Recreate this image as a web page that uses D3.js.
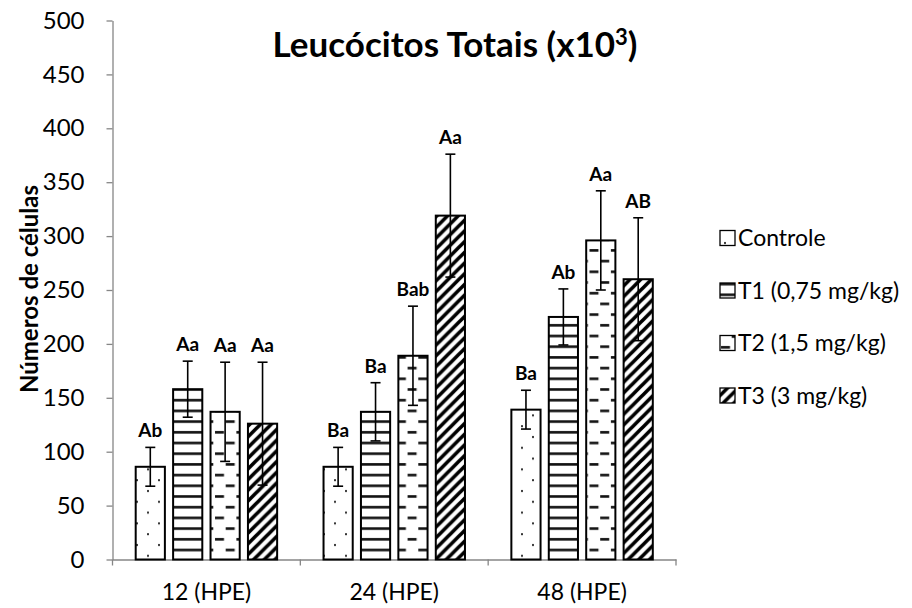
<!DOCTYPE html>
<html>
<head>
<meta charset="utf-8">
<script src="https://cdn.jsdelivr.net/npm/d3@7"></script>
<style>
  body { margin: 0; background: #fff; }
  svg { display: block; }
  text { font-family: Lato, "Open Sans", sans-serif; fill: #000; }
</style>
</head>
<body>
<svg id="chart" width="912" height="608"></svg>
<script>
// Total leukocytes (x10^3) per treatment and sampling time
const categories = ["12 (HPE)", "24 (HPE)", "48 (HPE)"];
const seriesNames = ["Controle", "T1 (0,75 mg/kg)", "T2 (1,5 mg/kg)", "T3 (3 mg/kg)"];
const controleMeans = [86, 86, 139];
const t1Means = [158, 137, 225];
const t2Means = [137, 189, 296];
const t3Means = [126, 319, 260];
const controleErr = [18, 18, 18];
const t1Err = [26, 27, 26];
const t2Err = [46, 46, 46];
const t3Err = [57, 57, 57];
const controleLetters = ["Ab", "Ba", "Ba"];
const t1Letters = ["Aa", "Ba", "Ab"];
const t2Letters = ["Aa", "Bab", "Aa"];
const t3Letters = ["Aa", "Aa", "AB"];
const yTicks = [0, 50, 100, 150, 200, 250, 300, 350, 400, 450, 500];

const patternIds = ["pat-dots", "pat-hlines", "pat-dashes", "pat-diag"];
const meansBySeries = [controleMeans, t1Means, t2Means, t3Means];
const errBySeries = [controleErr, t1Err, t2Err, t3Err];
const lettersBySeries = [controleLetters, t1Letters, t2Letters, t3Letters];

const rows = [];
categories.forEach((c, ci) => {
  seriesNames.forEach((s, si) => {
    rows.push({
      category: c, series: s, si,
      mean: meansBySeries[si][ci],
      err: errBySeries[si][ci],
      letter: lettersBySeries[si][ci]
    });
  });
});

const svg = d3.select("#chart");
const axisColor = "#868686";

// Fill patterns
const defs = svg.append("defs");
{
  const p = defs.append("pattern").attr("id", "pat-dots")
    .attr("patternUnits", "userSpaceOnUse").attr("width", 22).attr("height", 21.6);
  p.append("rect").attr("width", 22).attr("height", 21.6).attr("fill", "#fff");
  p.append("rect").attr("x", 4).attr("y", 4).attr("width", 2).attr("height", 2).attr("fill", "#333");
  p.append("rect").attr("x", 15).attr("y", 14.8).attr("width", 2).attr("height", 2).attr("fill", "#333");
}
{
  const p = defs.append("pattern").attr("id", "pat-hlines")
    .attr("patternUnits", "userSpaceOnUse").attr("width", 10).attr("height", 10.7);
  p.append("rect").attr("width", 10).attr("height", 10.7).attr("fill", "#fff");
  p.append("rect").attr("x", 0).attr("y", 3).attr("width", 10).attr("height", 2.6).attr("fill", "#111");
}
{
  const p = defs.append("pattern").attr("id", "pat-dashes")
    .attr("patternUnits", "userSpaceOnUse").attr("width", 21.4).attr("height", 21.4);
  p.append("rect").attr("width", 21.4).attr("height", 21.4).attr("fill", "#fff");
  p.append("rect").attr("x", 1).attr("y", 3).attr("width", 9).attr("height", 2.6).attr("fill", "#111");
  p.append("rect").attr("x", 11.7).attr("y", 13.7).attr("width", 9).attr("height", 2.6).attr("fill", "#111");
}
{
  const s = 10.7;
  const p = defs.append("pattern").attr("id", "pat-diag")
    .attr("patternUnits", "userSpaceOnUse").attr("width", s).attr("height", s);
  p.append("rect").attr("width", s).attr("height", s).attr("fill", "#fff");
  p.append("path")
    .attr("d", `M0,${s} L${s},0 M${-s / 2},${s / 2} L${s / 2},${-s / 2} M${s / 2},${s * 1.5} L${s * 1.5},${s / 2}`)
    .attr("stroke", "#000").attr("stroke-width", 3.6);
}

// Scales
const x0 = d3.scaleBand().domain(categories).range([112.5, 676]).padding(0);
const x1 = d3.scaleBand().domain(seriesNames).range([0, x0.bandwidth()])
  .paddingInner(0.22).paddingOuter(0.62);
const y = d3.scaleLinear().domain([0, 500]).range([559.5, 20.5]);

// Y axis
const yAxis = svg.append("g").attr("transform", "translate(112.5,0)")
  .call(d3.axisLeft(y).tickValues(yTicks).tickSize(6).tickSizeOuter(0).tickPadding(22));
yAxis.select(".domain").attr("stroke", axisColor).attr("stroke-width", 1.3);
yAxis.selectAll(".tick line").attr("stroke", axisColor).attr("stroke-width", 1.3);
yAxis.selectAll(".tick text").style("font-size", "24px").attr("fill", "#000")
  .style("font-family", "Lato, sans-serif");

// X axis: category labels centred, tick marks at category boundaries
const xAxis = svg.append("g").attr("transform", `translate(0,${y(0)})`)
  .call(d3.axisBottom(x0).tickSize(0).tickSizeOuter(0).tickPadding(24));
xAxis.select(".domain").attr("stroke", axisColor).attr("stroke-width", 1.3);
xAxis.selectAll(".tick text").style("font-size", "23px").attr("fill", "#000")
  .style("font-family", "Lato, sans-serif");
const boundaries = categories.map(c => x0(c)).concat([x0(categories[categories.length - 1]) + x0.bandwidth()]);
xAxis.selectAll("line.boundary").data(boundaries).join("line")
  .attr("class", "boundary")
  .attr("x1", d => d).attr("x2", d => d)
  .attr("y1", 0).attr("y2", 6)
  .attr("stroke", axisColor).attr("stroke-width", 1.3);

// Bars
const plot = svg.append("g");
const barX = d => x0(d.category) + x1(d.series);
plot.selectAll("rect.bar").data(rows).join("rect")
  .attr("class", "bar")
  .attr("x", barX)
  .attr("y", d => y(d.mean))
  .attr("width", x1.bandwidth())
  .attr("height", d => y(0) - y(d.mean))
  .attr("fill", d => `url(#${patternIds[d.si]})`)
  .attr("stroke", "#000").attr("stroke-width", 2);

// Error bars
const cap = 5;
const eb = plot.selectAll("g.err").data(rows).join("g").attr("class", "err")
  .attr("transform", d => `translate(${barX(d) + x1.bandwidth() / 2},0)`);
eb.append("line").attr("y1", d => y(d.mean + d.err)).attr("y2", d => y(d.mean - d.err))
  .attr("stroke", "#000").attr("stroke-width", 1.6);
eb.append("line").attr("x1", -cap).attr("x2", cap)
  .attr("y1", d => y(d.mean + d.err)).attr("y2", d => y(d.mean + d.err))
  .attr("stroke", "#000").attr("stroke-width", 1.6);
eb.append("line").attr("x1", -cap).attr("x2", cap)
  .attr("y1", d => y(d.mean - d.err)).attr("y2", d => y(d.mean - d.err))
  .attr("stroke", "#000").attr("stroke-width", 1.6);

// Significance letters
eb.append("text")
  .attr("y", d => y(d.mean + d.err) - 10)
  .attr("text-anchor", "middle")
  .style("font-size", "19px").style("font-weight", "bold")
  .text(d => d.letter);

// Title with superscript exponent
const title = svg.append("text")
  .attr("x", 455).attr("y", 57)
  .attr("text-anchor", "middle")
  .style("font-size", "35px").style("font-weight", "bold");
title.append("tspan").text("Leucócitos Totais (x10");
title.append("tspan").attr("dy", -12).style("font-size", "22px").text("3");
title.append("tspan").attr("dy", 12).text(")");

// Y axis title
svg.append("text")
  .attr("transform", "translate(30,289) rotate(-90)")
  .attr("text-anchor", "middle").attr("dy", "0.35em")
  .style("font-size", "24px").style("font-weight", "bold")
  .text("Números de células");

// Legend
const legendRowsY = [238, 290.5, 343, 395.5];
const legend = svg.append("g");
const li = legend.selectAll("g").data(seriesNames).join("g")
  .attr("transform", (d, i) => `translate(720,${legendRowsY[i]})`);
li.append("rect").attr("x", 0).attr("y", -7.5).attr("width", 15).attr("height", 15)
  .attr("fill", (d, i) => `url(#${patternIds[i]})`)
  .attr("stroke", "#000").attr("stroke-width", 1.3);
li.append("text").attr("x", 18).attr("dy", "0.36em")
  .style("font-size", "23px")
  .text(d => d);
</script>
</body>
</html>
